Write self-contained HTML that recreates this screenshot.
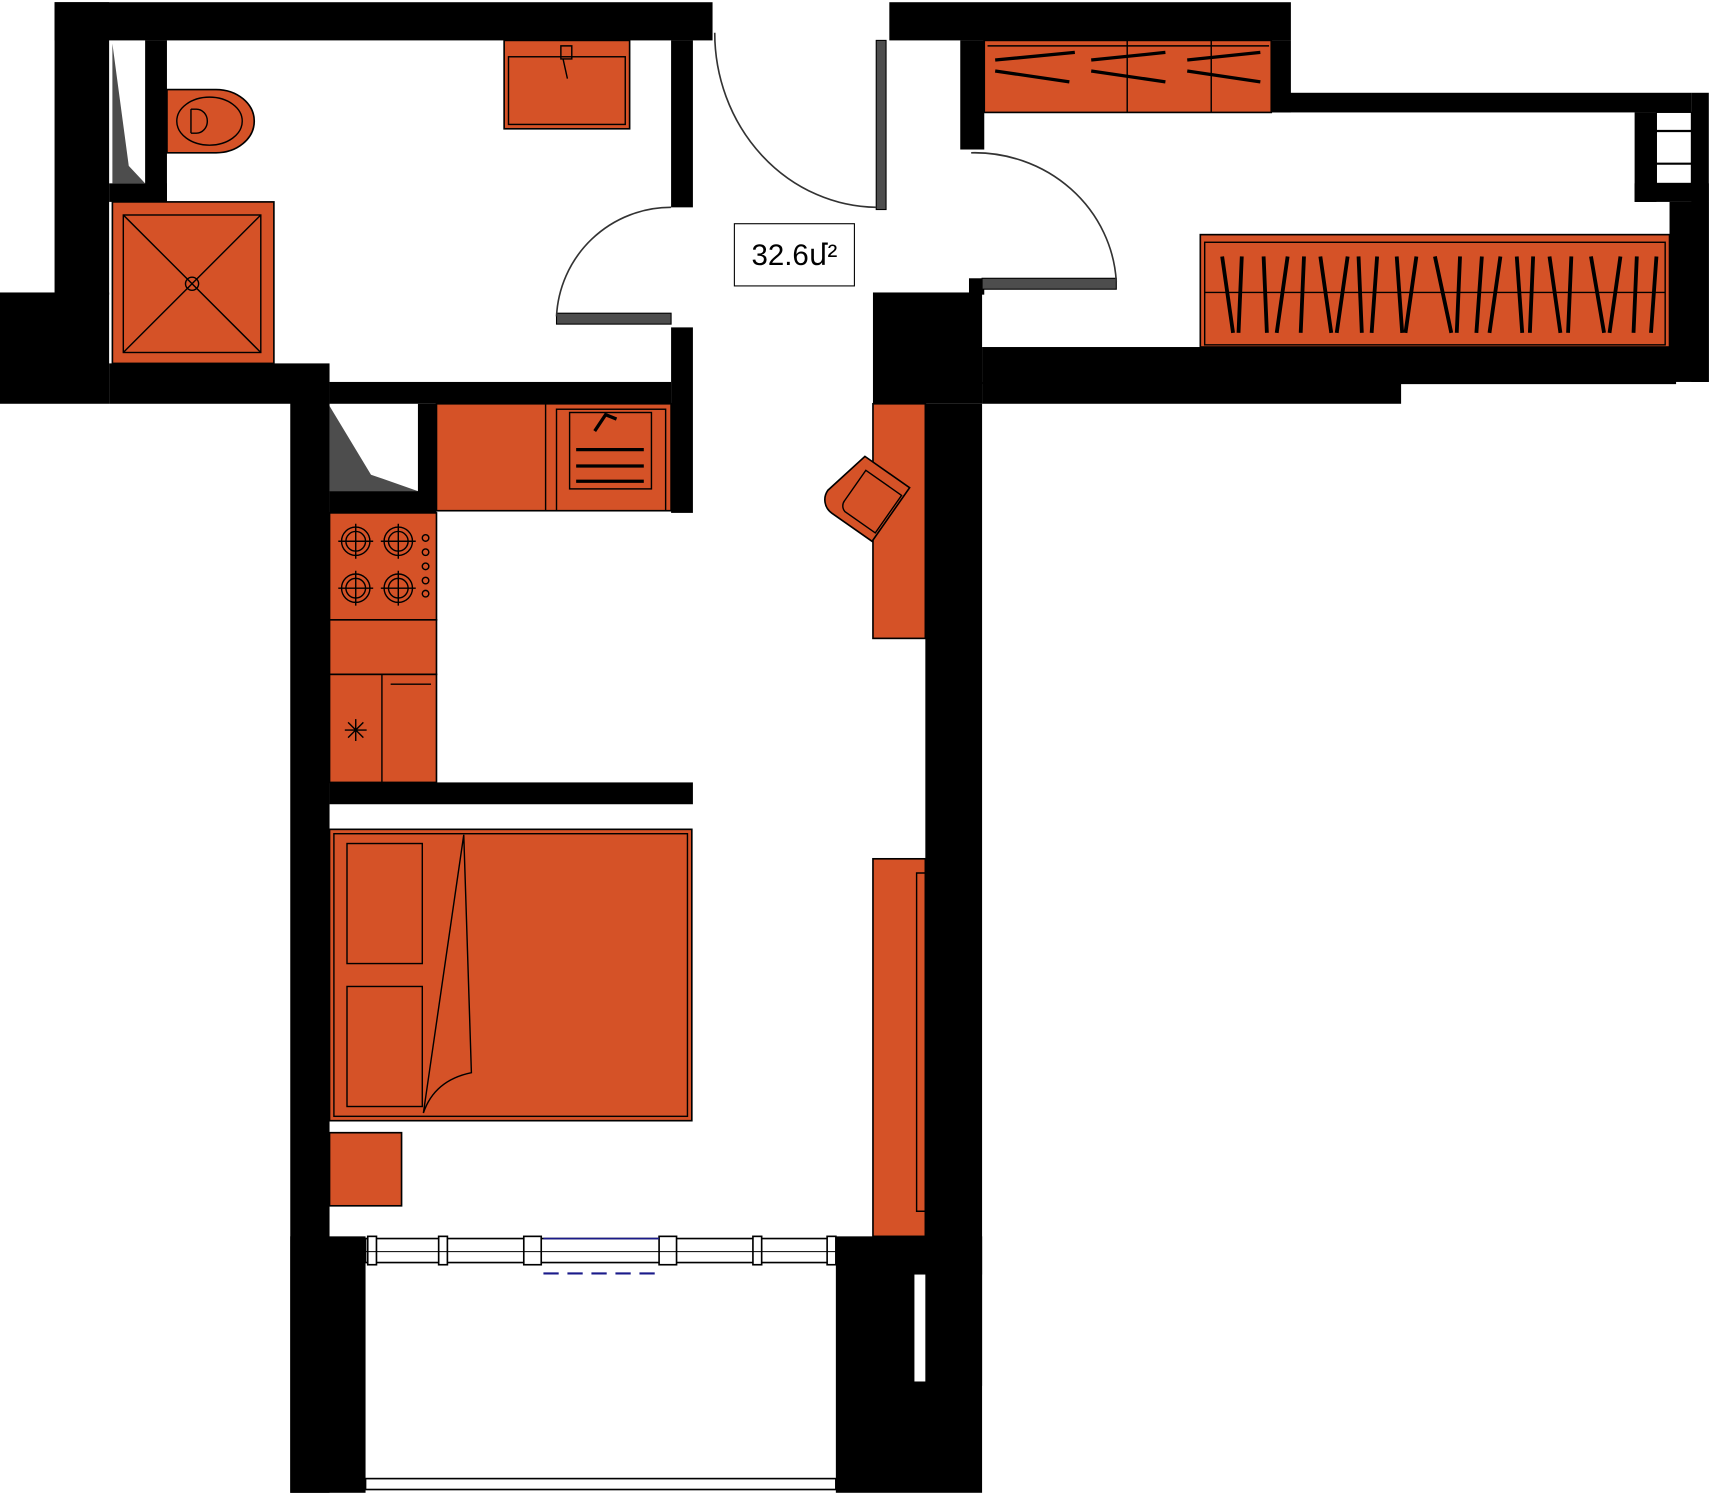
<!DOCTYPE html>
<html><head><style>html,body{margin:0;padding:0;background:#fff}svg{display:block}</style></head>
<body>
<svg width="1711" height="1495" viewBox="0 0 1568 1370" xmlns="http://www.w3.org/2000/svg">
<g fill="#000">
<rect x="50" y="2" width="603" height="35"/>
<rect x="50" y="2" width="50" height="268"/>
<rect x="0" y="268" width="100" height="102"/>
<rect x="100" y="333" width="202" height="37"/>
<rect x="133" y="37" width="20" height="148"/>
<rect x="100" y="168" width="53" height="17"/>
<rect x="615" y="37" width="20" height="153"/>
<rect x="615" y="300" width="20" height="170"/>
<rect x="302" y="350" width="313" height="20"/>
<rect x="266" y="350" width="36" height="1018"/>
<rect x="383" y="370" width="17" height="100"/>
<rect x="302" y="450" width="98" height="20"/>
<rect x="302" y="717" width="333" height="20"/>
<rect x="266" y="1133" width="69" height="235"/>
<rect x="766" y="1133" width="134" height="235"/>
<rect x="800" y="1133" width="100" height="35"/>
<rect x="848" y="370" width="52" height="900"/>
<rect x="800" y="268" width="100" height="102"/>
<rect x="815" y="2" width="368" height="35"/>
<rect x="1165" y="37" width="18" height="66"/>
<rect x="1165" y="85" width="385" height="18"/>
<rect x="1550" y="85" width="16" height="265"/>
<rect x="1498" y="103" width="20" height="82"/>
<rect x="1498" y="168" width="68" height="17"/>
<rect x="1530" y="185" width="36" height="165"/>
<rect x="900" y="318" width="636" height="34"/>
<rect x="900" y="350" width="384" height="20"/>
<rect x="880" y="37" width="22" height="100"/>
<rect x="888" y="255" width="14" height="15"/>
</g>
<rect x="838" y="1168" width="10" height="98" fill="#fff"/>
<rect x="1518" y="103" width="32" height="65" fill="#fff" stroke="#000" stroke-width="1"/>
<line x1="1518" y1="120" x2="1550" y2="120" stroke="#000" stroke-width="2"/>
<line x1="1518" y1="150" x2="1550" y2="150" stroke="#000" stroke-width="2"/>
<polygon points="103,40 118,152 133,168 103,168" fill="#4d4d4d"/>
<polygon points="302,372 340,435 383,450 302,450" fill="#4d4d4d"/>
<rect x="803" y="37" width="9" height="155" fill="#4d4d4d" stroke="#000"/>
<rect x="510" y="287" width="105" height="10" fill="#4d4d4d" stroke="#000"/>
<rect x="900" y="255" width="123" height="10" fill="#4d4d4d" stroke="#000"/>
<g fill="none" stroke="#333" stroke-width="1.5">
<path d="M655,30 A150,160 0 0 0 803,190"/>
<path d="M615,190 A105,105 0 0 0 510,290"/>
<path d="M890,140 A130,125 0 0 1 1023,258"/>
</g>
<rect x="673" y="205" width="110" height="57" fill="#fff" stroke="#000" stroke-width="1"/>
<text x="728" y="243" font-family="Liberation Sans, DejaVu Sans, sans-serif" font-size="27" text-anchor="middle">32.6մ²</text>
<g fill="#d55227" stroke="#000" stroke-width="1.5">
<path d="M153,82 H198 A35,29 0 0 1 198,140 H153 Z"/>
<rect x="103" y="185" width="148" height="148"/>
<rect x="462" y="37" width="115" height="81"/>
<rect x="400" y="370" width="215" height="98"/>
<rect x="302" y="470" width="98" height="98"/>
<rect x="302" y="568" width="98" height="50"/>
<rect x="302" y="618" width="98" height="99"/>
<rect x="302" y="760" width="332" height="267"/>
<rect x="302" y="1038" width="66" height="67"/>
<rect x="800" y="370" width="48" height="215"/>
<rect x="800" y="787" width="48" height="346"/>
<rect x="902" y="37" width="263" height="66"/>
<rect x="1100" y="215" width="430" height="103"/>
</g>
<g fill="none" stroke="#000" stroke-width="1.3">
<ellipse cx="192" cy="111" rx="30" ry="22"/>
<path d="M175,100 v22 M175,100 h5 a10,11 0 0 1 0,22 h-5"/>
<rect x="113" y="197" width="126" height="126"/>
<line x1="113" y1="197" x2="239" y2="323"/><line x1="239" y1="197" x2="113" y2="323"/>
<circle cx="176" cy="260" r="6"/>
<rect x="466" y="52" width="107" height="62"/>
<path d="M514,42 h10 v12 h-10 z M516,54 l4,18"/>
<line x1="500" y1="370" x2="500" y2="468"/>
<rect x="510" y="375" width="100" height="93"/>
<rect x="522" y="378" width="75" height="70"/>
<line x1="528" y1="412" x2="590" y2="412" stroke-width="3"/>
<line x1="528" y1="427" x2="590" y2="427" stroke-width="3"/>
<line x1="528" y1="441" x2="590" y2="441" stroke-width="3"/>
<path d="M545,395 l10,-15 l10,4" stroke-width="3"/>
<circle cx="326" cy="496" r="13"/><circle cx="326" cy="496" r="9"/>
<circle cx="365" cy="496" r="13"/><circle cx="365" cy="496" r="9"/>
<circle cx="326" cy="539" r="13"/><circle cx="326" cy="539" r="9"/>
<circle cx="365" cy="539" r="13"/><circle cx="365" cy="539" r="9"/>
<path d="M310,496h32M326,480v32M349,496h32M365,480v32M310,539h32M326,523v32M349,539h32M365,523v32"/>
<circle cx="390" cy="493" r="3"/><circle cx="390" cy="506" r="3"/><circle cx="390" cy="519" r="3"/><circle cx="390" cy="532" r="3"/><circle cx="390" cy="544" r="3"/>
<line x1="350" y1="618" x2="350" y2="717"/>
<line x1="358" y1="627" x2="395" y2="627"/>
<path d="M316,669h20M326,659v20M319,662l14,14M333,662l-14,14"/>
<rect x="306" y="764" width="324" height="259"/>
<rect x="318" y="773" width="69" height="110"/>
<rect x="318" y="904" width="69" height="110"/>
<path d="M388,1020 L425,765 L432,983 Q398,990 388,1020"/>
<path d="M905,42 H1163 M1033,37 V103 M1110,37 V103"/>
<path d="M912,55 L985,48 M912,65 L980,75 M1000,55 L1068,48 M1000,65 L1068,75 M1088,55 L1155,48 M1088,65 L1155,75" stroke-width="3"/>
<rect x="1104" y="222" width="422" height="94"/>
<line x1="1104" y1="268" x2="1526" y2="268"/>
<path d="M1120,235l10,70 M1138,235l-3,70 M1158,235l3,70 M1180,235l-10,70 M1195,235l-3,70 M1210,235l10,70 M1235,235l-10,70 M1245,235l3,70 M1262,235l-5,70 M1280,235l5,70 M1298,235l-10,70 M1315,235l15,70 M1338,235l-3,70 M1358,235l-5,70 M1375,235l-10,70 M1390,235l5,70 M1405,235l-3,70 M1420,235l10,70 M1440,235l-3,70 M1458,235l12,70 M1485,235l-10,70 M1500,235l-3,70 M1518,235l-5,70" stroke-width="3.5"/>
<path d="M840,800 L848,800 L848,1110 L840,1110 Z"/>
</g>
<g transform="rotate(35 800 460)">
<path d="M770,430 h50 v60 h-45 a15,15 0 0 1 -15,-15 z" fill="#d55227" stroke="#000" stroke-width="1.5"/>
<path d="M778,440 h40 v42 h-34 a8,8 0 0 1 -6,-8 z" fill="none" stroke="#000" stroke-width="1.3"/>
</g>
<g fill="#fff" stroke="#000" stroke-width="1.5">
<rect x="335" y="1135" width="431" height="22"/>
<rect x="337" y="1133" width="8" height="26"/><rect x="402" y="1133" width="8" height="26"/>
<rect x="480" y="1133" width="16" height="26"/><rect x="604" y="1133" width="16" height="26"/>
<rect x="690" y="1133" width="8" height="26"/><rect x="758" y="1133" width="8" height="26"/>
<rect x="335" y="1355" width="431" height="10"/>
</g>
<line x1="335" y1="1147" x2="766" y2="1147" stroke="#000" stroke-width="1"/>
<line x1="498" y1="1167" x2="604" y2="1167" stroke="#1a1a8a" stroke-width="2" stroke-dasharray="14,8"/>
<line x1="498" y1="1135" x2="604" y2="1135" stroke="#1a1a8a" stroke-width="1.5"/>
</svg>
</body></html>
